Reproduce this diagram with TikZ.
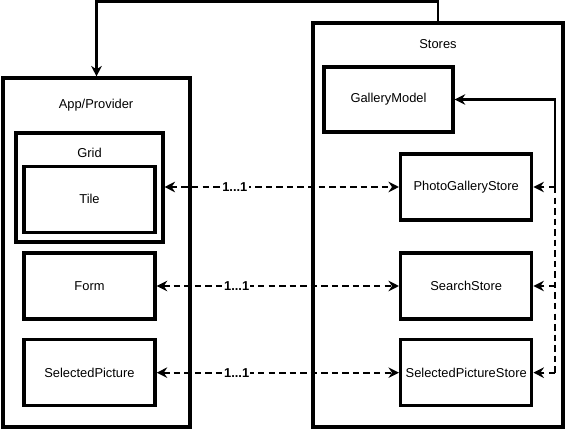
\documentclass[tikz,border=0pt]{standalone}
\usepackage{fontspec}
\setmainfont{Liberation Sans}
\usetikzlibrary{positioning, arrows.meta}

\begin{document}
\begin{tikzpicture}[x=0.03cm, y=-0.03cm, node distance=2.6cm and 11.3cm, on grid, font=\fontsize{11}{13}\selectfont,
	box/.style={draw, black, line width=2.9pt, minimum width=3.93cm, minimum height=1.98cm, inner sep=0pt},
	frame/.style={draw, black, line width=2.6pt, inner sep=0pt},
	flow/.style={-{Stealth[length=9pt, width=9pt, inset=3pt]}, line width=2.1pt},
	link/.style={{Stealth[length=9pt, width=9pt, inset=3pt]}-{Stealth[length=9pt, width=9pt, inset=3pt]}, line width=1.9pt, dash pattern=on 5.5pt off 3.5pt},
	back/.style={-{Stealth[length=9pt, width=9pt, inset=3pt]}, line width=1.9pt, dash pattern=on 5.5pt off 3.5pt},
	mult/.style={fill=white, inner sep=1pt, font=\fontsize{11}{13}\selectfont\bfseries}]
	\useasboundingbox (0,0) rectangle (566,429);
	
	% containers
	\node[frame, minimum width=5.61cm, minimum height=10.47cm] (App) at (96.5,252.5) {};
	\node[frame, minimum width=7.5cm, minimum height=12.12cm] (Stores) at (438,225) {};
	\node[frame, minimum width=4.41cm, minimum height=3.27cm] (Grid) at (89.5,187.5) {};
	\node (AppTitle) at (96,105) {App/Provider};
	\node (StoresTitle) at (438,44) {Stores};
	\node (GridTitle) at (89.5,153) {Grid};
	
	% components and stores
	\node[box] (Form) at (89.5,286) {Form};
	\node[box] (Tile) [above=of Form] {Tile};
	\node[box] (SelectedPicture) [below=of Form] {SelectedPicture};
	\node[box] (SearchStore) [right=of Form] {SearchStore};
	\node[box] (PhotoGalleryStore) [above=2.97cm of SearchStore] {PhotoGalleryStore};
	\node[box] (SelectedPictureStore) [right=of SelectedPicture] {SelectedPictureStore};
	\node[box, minimum width=3.87cm, minimum height=1.95cm] (GalleryModel) at (388.5,99.5) {GalleryModel};
	\coordinate (rail) at (555,0);
	
	\draw[flow] (Stores.north) -- ++(0,-20) -| (App.north);
	\draw[flow] (PhotoGalleryStore.east -| rail) |- (GalleryModel.east);
	\draw[line width=1.9pt, dash pattern=on 5.5pt off 3.5pt] (PhotoGalleryStore.east -| rail) -- (SelectedPictureStore.east -| rail);
	
	\path (PhotoGalleryStore.east -| rail) edge[back] (PhotoGalleryStore.east);
	\path (SearchStore.east -| rail) edge[back] (SearchStore.east);
	\path (SelectedPictureStore.east -| rail) edge[back] (SelectedPictureStore.east);
	
	\path (Grid.east |- PhotoGalleryStore.west) edge[link] node[mult, pos=0.3]{1...1} (PhotoGalleryStore);
	\path (Form) edge[link] node[mult, pos=0.33]{1...1} (SearchStore);
	\path (SelectedPicture) edge[link] node[mult, pos=0.33]{1...1} (SelectedPictureStore);
	
\end{tikzpicture}
\end{document}
